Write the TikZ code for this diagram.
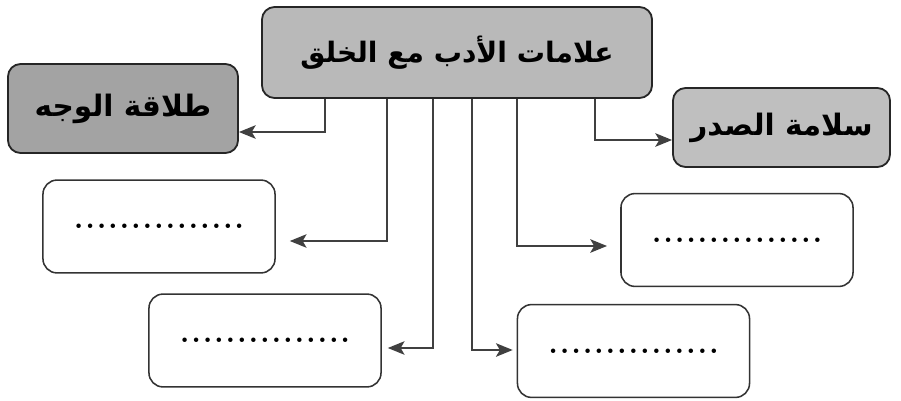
\documentclass[tikz,border=0pt]{standalone}
\usepackage{fontspec}
\newfontfamily\arabicfont[Script=Arabic]{DejaVu Sans}
\TeXXeTstate=1
\usetikzlibrary{arrows.meta,calc}
\newcommand{\blankline}{\lower0.1cm\hbox to 4.32cm{\xleaders\hbox to 0.27cm{\hss\textbf{.}\hss}\hfill}}

\begin{document}
\begin{tikzpicture}[x=0.025cm,y=-0.025cm,
   head/.style={draw=black!85,line width=1.3pt,rounded corners=9pt,fill=gray!55,
              font=\arabicfont\bfseries\fontsize{20}{24}\selectfont,
              minimum width=9.75cm,minimum height=2.275cm},
   mark box/.style={draw=black!85,line width=1.3pt,rounded corners=9pt,
              font=\arabicfont\bfseries\fontsize{21}{25}\selectfont},
   blank/.style={draw=black!80,line width=1.1pt,rounded corners=10pt,
              minimum width=5.8cm,minimum height=2.32cm,
              font=\fontsize{22}{26}\selectfont},
   conn/.style={draw=black!75,line width=1pt,
              -{Stealth[length=4.2mm,width=3.4mm,inset=1mm]}},
]
\useasboundingbox (0,0) rectangle (901,401);

\node[head] (top) at (457,52.5) {\beginR علامات الأدب مع الخلق\endR};
\node[mark box,fill=gray!72,minimum width=5.75cm,minimum height=2.225cm]
     (face) at (123,108.5) {\beginR طلاقة الوجه\endR};
\node[mark box,fill=gray!50,minimum width=5.425cm,minimum height=1.975cm]
     (chest) at (781.5,127.5) {\beginR سلامة الصدر\endR};

\node[blank] (l1) at (159,226.5) {\blankline};
\node[blank] (l2) at (265,340.5) {\blankline};
\node[blank] (r1) at (737,240)   {\blankline};
\node[blank] (r2) at (633.5,351) {\blankline};

\draw[conn] ($(top.south)+(-132,0)$) |- ($(face.east)+(0,23.5)$);
\draw[conn,shorten >=0.35cm] ($(top.south)+(-70,0)$) |- ($(l1.east)+(0,14.5)$);
\draw[conn,shorten >=0.15cm] ($(top.south)+(-24,0)$) |- ($(l2.east)+(0,7.5)$);
\draw[conn,shorten >=0.1cm]  ($(top.south)+(15,0)$)  |- ($(r2.west)+(0,-1)$);
\draw[conn,shorten >=0.33cm] ($(top.south)+(60,0)$)  |- ($(r1.west)+(0,6)$);
\draw[conn] ($(top.south)+(138,0)$) |- ($(chest.west)+(0,12.5)$);
\end{tikzpicture}
\end{document}
